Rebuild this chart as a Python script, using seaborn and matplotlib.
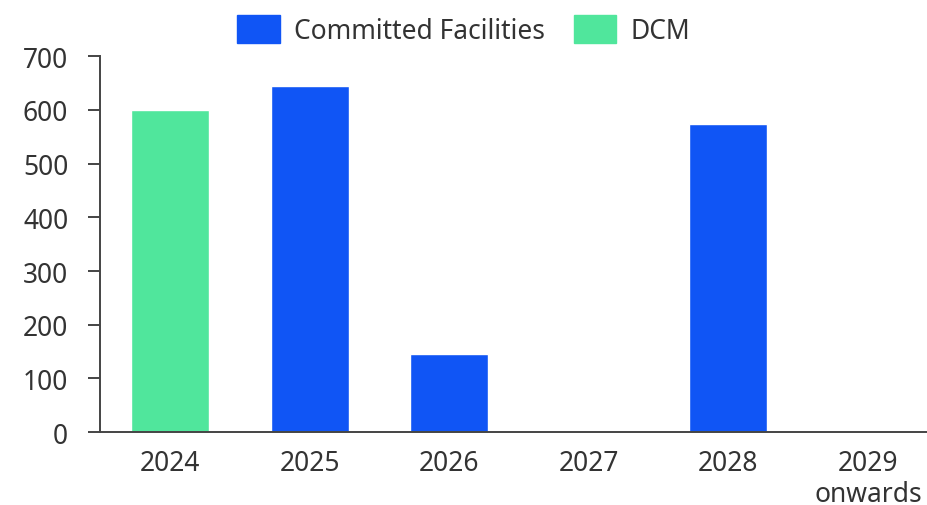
import pandas as pd
import matplotlib.pyplot as plt
import seaborn as sns

years = ['2024', '2025', '2026', '2027', '2028', '2029\nonwards']
committed = [0, 644, 145, 0, 573, 0]
dcm = [600, 0, 0, 0, 0, 0]

df = pd.DataFrame({
    'year': years * 2,
    'value': committed + dcm,
    'type': ['Committed Facilities'] * len(years) + ['DCM'] * len(years),
})

sns.set_style('white')
plt.rcParams['font.family'] = ['Noto Sans', 'DejaVu Sans']
text_col = '#333333'

fig = plt.figure(figsize=(9.28, 5.06), dpi=100)
ax = fig.add_axes([0.108, 0.144, 0.892, 0.743])

sns.barplot(data=df, x='year', y='value', hue='type', dodge=False,
            palette={'Committed Facilities': '#1055F5', 'DCM': '#50E69C'},
            saturation=1, width=0.56, ax=ax, legend=False)

ax.set_ylim(0, 700)
ax.set_xlim(-0.5, 5.43)
ax.set_yticks(range(0, 701, 100))
ax.set_xlabel('')
ax.set_ylabel('')
ax.tick_params(axis='y', left=True, length=9, width=1.4, color='#444444',
               labelsize=19, labelcolor=text_col, pad=14)
ax.tick_params(axis='x', bottom=False, length=0, labelsize=19, labelcolor=text_col, pad=12)
for lab in ax.get_xticklabels():
    lab.set_linespacing(1.15)
sns.despine(ax=ax)
for s in ['left', 'bottom']:
    ax.spines[s].set_color('#444444')
    ax.spines[s].set_linewidth(1.4)

handles = [plt.Rectangle((0, 0), 1, 1, color='#1055F5'),
           plt.Rectangle((0, 0), 1, 1, color='#50E69C')]
fig.legend(handles, ['Committed Facilities', 'DCM'], loc='upper center',
           bbox_to_anchor=(0.5, 1.015), ncol=2, frameon=False, fontsize=19,
           handlelength=1.6, handleheight=1.25, handletextpad=0.55, columnspacing=1.1,
           labelcolor=text_col)

fig.savefig('out.png', dpi=100)
